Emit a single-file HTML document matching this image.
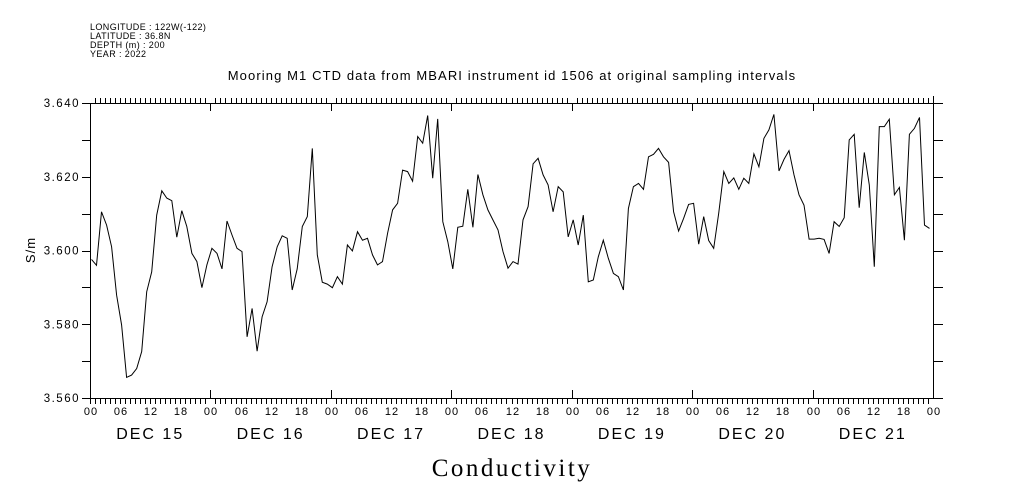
<!DOCTYPE html>
<html><head><meta charset="utf-8"><style>
html,body{margin:0;padding:0;background:#fff;}
svg{display:block;font-family:"Liberation Sans",sans-serif;}
</style></head><body>
<svg id="chart" width="1009" height="504" viewBox="0 0 1009 504" xmlns="http://www.w3.org/2000/svg">
<g font-size="9" fill="#000" letter-spacing="0.4">
<text x="90" y="30">LONGITUDE : 122W(-122)</text>
<text x="90" y="39">LATITUDE : 36.8N</text>
<text x="90" y="48">DEPTH (m) : 200</text>
<text x="90" y="57">YEAR : 2022</text>
</g>
<text x="512" y="80" text-anchor="middle" font-size="13" letter-spacing="1.1">Mooring M1 CTD data from MBARI instrument id 1506 at original sampling intervals</text>
<text x="512" y="476" text-anchor="middle" font-size="25" letter-spacing="2.5" font-family="'Liberation Serif',serif">Conductivity</text>
<text x="0" y="0" transform="translate(35,250) rotate(-90)" text-anchor="middle" font-size="13" letter-spacing="1">S/m</text>
<g id="axes"></g>
<path id="line" fill="none" stroke="#000" stroke-width="1"/>
</svg>
<script>
const yTicks = [3.56, 3.57, 3.58, 3.59, 3.60, 3.61, 3.62, 3.63, 3.64];
const yLabels = ["3.560", "3.580", "3.600", "3.620", "3.640"];
const dayLabels = ["DEC 15", "DEC 16", "DEC 17", "DEC 18", "DEC 19", "DEC 20", "DEC 21"];
const hourLabels = ["00", "06", "12", "18"];
const startHour = 0.3;
const values = [
3.5976,3.5960,3.6105,3.6069,3.6010,3.5879,3.5798,3.5656,3.5662,3.5680,3.5726,3.5888,3.5942,3.6096,3.6162,3.6142,3.6135,3.6036,3.6108,3.6065,
3.5992,3.5970,3.5899,3.5961,3.6006,3.5992,3.5950,3.6080,3.6042,3.6006,3.5997,3.5766,3.5843,3.5727,3.5820,3.5861,3.5956,3.6010,3.6040,3.6033,
3.5893,3.5950,3.6065,3.6092,3.6277,3.5988,3.5914,3.5909,3.5899,3.5929,3.5909,3.6015,3.5999,3.6051,3.6028,3.6033,3.5988,3.5961,
3.5970,3.6047,3.6110,3.6128,3.6218,3.6214,3.6188,3.6309,3.6291,3.6366,3.6196,3.6357,3.6078,3.6024,3.5950,3.6063,3.6066,3.6166,3.6063,3.6206,
3.6151,3.6110,3.6083,3.6056,3.5997,3.5952,3.5970,3.5963,3.6083,3.6119,3.6235,3.6250,3.6205,3.6178,3.6105,3.6173,3.6159,3.6037,3.6083,3.6015,
3.6096,3.5915,3.5920,3.5983,3.6028,3.5979,3.5938,3.5929,3.5893,3.6114,3.6173,3.6182,3.6166,3.6254,3.6261,3.6277,
3.6254,3.6239,3.6105,3.6053,3.6087,3.6125,3.6128,3.6017,3.6092,3.6027,3.6006,3.6101,3.6214,3.6182,3.6197,3.6166,3.6196,3.6182,3.6262,3.6227,
3.6304,3.6327,3.6369,3.6216,3.6247,3.6271,3.6205,3.6151,3.6123,3.6031,3.6031,3.6033,3.6030,3.5992,3.6078,3.6065,3.6089,3.6300,3.6315,3.6116,
3.6266,3.6178,3.5956,3.6336,3.6336,3.6356,3.6151,3.6171,3.6028,3.6315,3.6331,3.6361,3.6069,3.6060
];
const X0=90, X1=933, Y0=398, Y1=103, HMAX=168, VMIN=3.56, VMAX=3.64;
function xs(h){return X0+(h/HMAX)*(X1-X0);}
function ys(v){return Y0-((v-VMIN)/(VMAX-VMIN))*(Y0-Y1);}
const NS="http://www.w3.org/2000/svg";
const axes=document.getElementById('axes');
function ln(x1,y1,x2,y2,name){const l=document.createElementNS(NS,'line');l.setAttribute('x1',x1);l.setAttribute('y1',y1);l.setAttribute('x2',x2);l.setAttribute('y2',y2);l.setAttribute('stroke','#000');l.setAttribute('stroke-width','1');


axes.appendChild(l);return l;}
function tx(x,y,s,size,anchor,ls,name){const t=document.createElementNS(NS,'text');t.setAttribute('x',x);t.setAttribute('y',y);t.setAttribute('font-size',size);t.setAttribute('text-anchor',anchor);t.setAttribute('letter-spacing',ls);t.textContent=s;


axes.appendChild(t);}
ln(82,Y0+0.5,X1,Y0+0.5,'x-axis-bottom');
ln(X0,Y1+0.5,943,Y1+0.5,'x-axis-top');
ln(X0+0.5,Y1,X0+0.5,Y0+6,'y-axis-left');
ln(X1+0.5,96,X1+0.5,Y0,'y-axis-right');
yTicks.forEach(v=>{const y=Math.round(ys(v))+0.5;ln(82,y,X0,y,'y-tick-left');ln(X1,y,943,y,'y-tick-right');});
yLabels.forEach(s=>{tx(80,ys(parseFloat(s))+4,s,11.5,'end',1.5,'y-tick-label');});
for(let h=0;h<=HMAX;h++){const x=Math.round(xs(h))+0.5;const major=h%24===0;
ln(x,Y0,x,major?Y0-8:Y0+6,'x-tick-bottom');
ln(x,Y1,x,major?Y1+8:Y1-5,'x-tick-top');
if(h%6===0){tx(x+0.5,415,hourLabels[(h/6)%4],11,'middle',1,'hour-label');}}
dayLabels.forEach((s,i)=>{tx(xs(i*24+12),439,s,16,'middle',2,'day-label');});
let d='';values.forEach((v,i)=>{d+=(i?'L':'M')+xs(startHour+i).toFixed(1)+' '+ys(v).toFixed(1);});
document.getElementById('line').setAttribute('d',d);
</script>
</body></html>
